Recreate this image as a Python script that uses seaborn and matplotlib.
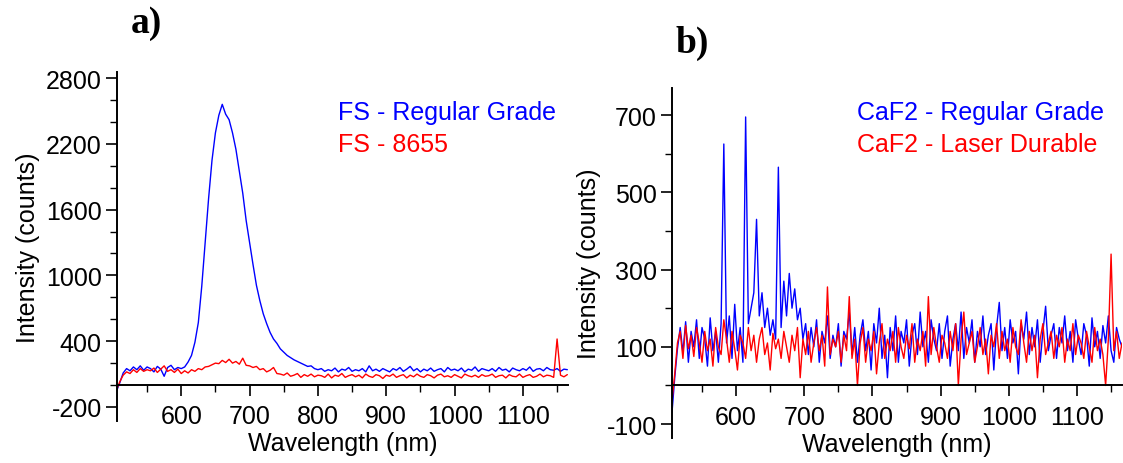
import numpy as np
import pandas as pd
import matplotlib
matplotlib.use("Agg")
import matplotlib.pyplot as plt
import matplotlib.ticker as mtick
import seaborn as sns

# ---- data ----
# panel a: fused silica, sampled every 5 nm from 505 to 1165
wl_a = np.arange(505, 1166, 5)
fs_regular = [
    -60, 20, 110, 150, 130, 165, 140, 175, 135, 165,
    150, 120, 170, 145, 80, 160, 180, 140, 160, 150,
    165, 210, 270, 390, 570, 900, 1300, 1700, 2050, 2300,
    2460, 2560, 2470, 2420, 2300, 2150, 1950, 1750, 1500, 1300,
    1100, 910, 770, 650, 560, 480, 420, 380, 330, 300,
    270, 250, 230, 215, 200, 185, 170, 175, 150, 140,
    150, 125, 140, 130, 155, 120, 145, 135, 160, 125,
    140, 130, 150, 120, 175, 130, 145, 125, 150, 135,
    120, 150, 135, 160, 125, 145, 170, 130, 150, 120,
    145, 130, 155, 125, 140, 150, 120, 160, 135, 145,
    130, 155, 120, 145, 135, 165, 125, 150, 140, 130,
    150, 125, 160, 135, 145, 120, 155, 140, 130, 150,
    135, 165, 125, 145, 150, 130, 160, 140, 135, 150,
    125, 145, 140,
]
fs_8655 = [
    -50, 30, 90, 120, 105, 140, 115, 150, 125, 140,
    130, 155, 115, 145, 175, 125, 140, 115, 145, 105,
    130, 110, 140, 125, 150, 140, 165, 170, 185, 200,
    195, 225, 205, 235, 200, 215, 190, 245, 180, 175,
    160, 170, 140, 150, 120, 135, 160, 105, 100, 90,
    110, 80, 90, 105, 70, 95, 80, 100, 75, 90,
    85, 70, 100, 65, 90, 80, 105, 70, 85, 95,
    75, 90, 65, 100, 80, 70, 95, 85, 60, 90,
    80, 100, 70, 85, 95, 65, 90, 75, 100, 80,
    70, 95, 85, 65, 90, 100, 75, 85, 70, 95,
    80, 65, 100, 85, 75, 90, 70, 95, 80, 85,
    100, 70, 85, 90, 65, 95, 80, 75, 100, 70,
    85, 95, 70, 80, 100, 75, 90, 85, 70, 420,
    90, 75, 95,
]

# panel b: CaF2, sampled every 4 nm from 506 to 1166
wl_b = np.arange(506, 1167, 4)
caf2_regular = [
    -70, 20, 95, 150, 85, 165, 60, 140, 100, 170,
    70, 150, 120, 50, 175, 90, 140, 60, 160, 625,
    110, 180, 70, 210, 90, 150, 60, 695, 160, 200,
    240, 430, 180, 240, 150, 200, 130, 170, 120, 565,
    150, 270, 180, 290, 200, 250, 170, 200, 120, 160,
    80, 150, 100, 170, 60, 140, 110, 180, 70, 130,
    100, 160, 50, 140, 120, 190, 80, 150, 60, 130,
    170, 90, 140, 40, 160, 110, 200, 70, 130, 20,
    150, 90, 180, 60, 140, 110, 170, 50, 130, 160,
    80, 190, 100, 140, 60, 170, 120, 90, 160, 70,
    140, 180, 50, 120, 160, 90, 190, 70, 150, 110,
    170, 60, 140, 100, 180, 80, 130, 160, 40, 150,
    215, 90, 150, 70, 170, 110, 140, 30, 160, 120,
    190, 80, 150, 100, 170, 60, 140, 205, 90, 130,
    160, 70, 150, 110, 180, 90, 140, 60, 170, 120,
    80, 160, 130, 50, 175, 100, 140, 70, 155, 110,
    180, 90, 60, 150, 120, 100,
]
caf2_durable = [
    -40, 30, 110, 140, 70, 155, 95, 130, 75, 150,
    110, 60, 140, 90, 120, 50, 150, 100, 80, 170,
    120, 60, 140, 95, 40, 130, 110, 70, 150, 90,
    130, 60, 120, 150, 80, 110, 40, 135, 95, 120,
    70, 140, 100, 60, 130, 90, 150, 20, 120, 80,
    140, 60, 110, 150, 90, 130, 50, 255, 80, 120,
    100, 140, 60, 130, 90, 230, 70, 120, 0, 110,
    150, 60, 120, 90, 140, 30, 110, 160, 70, 120,
    90, 140, 60, 150, 100, 70, 130, 95, 160, 60,
    120, 90, 140, 50, 230, 80, 150, 100, 60, 130,
    110, 70, 140, 90, 160, 0, 120, 190, 80, 110,
    140, 60, 100, 150, 80, 120, 30, 130, 100, 160,
    70, 140, 90, 120, 60, 150, 100, 80, 170, 110,
    60, 140, 90, 130, 20, 120, 160, 80, 110, 140,
    70, 130, 100, 150, 60, 120, 90, 160, 80, 130,
    110, 70, 140, 100, 60, 150, 90, 120, 80, 0,
    120, 340, 90, 140, 70, 110,
]

labels_a = ["FS - Regular Grade", "FS - 8655"]
labels_b = ["CaF2 - Regular Grade", "CaF2 - Laser Durable"]
yticks_a = [-200, 400, 1000, 1600, 2200, 2800]
yticks_b = [-100, 100, 300, 500, 700]
xticks = [600, 700, 800, 900, 1000, 1100]
colors = ["#0000ff", "#ff0000"]

df_a = pd.concat([
    pd.DataFrame({"wavelength": wl_a, "intensity": fs_regular, "sample": labels_a[0]}),
    pd.DataFrame({"wavelength": wl_a, "intensity": fs_8655, "sample": labels_a[1]}),
])
df_b = pd.concat([
    pd.DataFrame({"wavelength": wl_b, "intensity": caf2_regular, "sample": labels_b[0]}),
    pd.DataFrame({"wavelength": wl_b, "intensity": caf2_durable, "sample": labels_b[1]}),
])

sns.set_style("ticks")
plt.rcParams["font.family"] = ["Liberation Sans", "DejaVu Sans"]
plt.rcParams["axes.unicode_minus"] = False
plt.rcParams["xtick.color"] = "black"
plt.rcParams["ytick.color"] = "black"
plt.rcParams["xtick.labelcolor"] = "black"
plt.rcParams["ytick.labelcolor"] = "black"
plt.rcParams["axes.labelcolor"] = "black"
plt.rcParams["text.color"] = "black"

fig = plt.figure(figsize=(11.23, 4.64), dpi=100)
ax_a = fig.add_axes([0.1042, 0.0905, 0.4016, 0.7522])
ax_b = fig.add_axes([0.5984, 0.0539, 0.4007, 0.7543])


def style_axis(ax, df, labels, yticks, ylim, yminor, lw, legend_x, legend_y):
    sns.lineplot(data=df, x="wavelength", y="intensity", hue="sample",
                 hue_order=labels, palette=colors, estimator=None, sort=False,
                 legend=False, linewidth=lw, ax=ax)
    ax.set_xlim(506, 1166)
    ax.set_ylim(*ylim)
    ax.spines["top"].set_visible(False)
    ax.spines["right"].set_visible(False)
    ax.spines["bottom"].set_position(("data", 0))
    for s in ("left", "bottom"):
        ax.spines[s].set_color("black")
        ax.spines[s].set_linewidth(1.4)
    ax.set_xticks(xticks)
    ax.set_yticks(yticks)
    ax.xaxis.set_minor_locator(mtick.MultipleLocator(50))
    ax.yaxis.set_minor_locator(mtick.MultipleLocator(yminor))
    ax.tick_params(which="major", direction="out", length=8, width=1.2,
                   labelsize=18, color="black", labelcolor="black")
    ax.tick_params(which="minor", direction="out", length=5, width=1.0, color="black")
    ax.tick_params(axis="x", which="major", pad=6)
    ax.tick_params(axis="y", which="major", pad=3)
    ax.set_xlabel("Wavelength (nm)", fontsize=18, labelpad=2, color="black")
    ax.set_ylabel("Intensity (counts)", fontsize=18, color="black")
    ax.grid(False)
    for txt, c, y in zip(labels, colors, legend_y):
        ax.text(legend_x, y, txt, color=c, fontsize=18, ha="left", va="center",
                transform=ax.transAxes)


style_axis(ax_a, df_a, labels_a, yticks_a, (-328, 2855), 200, 1.0, 0.490, [0.885, 0.794])
style_axis(ax_b, df_b, labels_b, yticks_b, (-136, 770), 100, 1.0, 0.411, [0.931, 0.840])

fig.text(131 / 1123, 1 - 33 / 464, "a)", fontsize=27, fontweight="bold",
         family="Liberation Serif", va="baseline", ha="left")
fig.text(675 / 1123, 1 - 53 / 464, "b)", fontsize=27, fontweight="bold",
         family="Liberation Serif", va="baseline", ha="left")

fig.savefig("out.png", dpi=100)
